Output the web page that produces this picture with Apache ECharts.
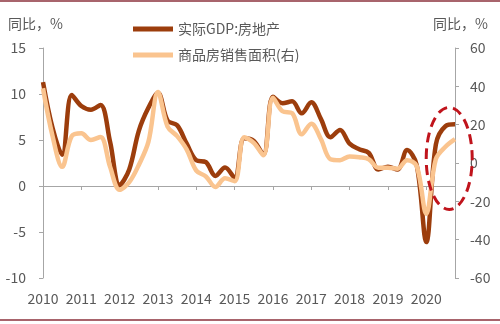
<!DOCTYPE html>
<html>
<head>
<meta charset="utf-8">
<script src="https://cdn.jsdelivr.net/npm/echarts@6/dist/echarts.min.js"></script>
<style>
  html, body { margin: 0; padding: 0; background: #fff; }
  #chart { width: 500px; height: 324px; }
</style>
</head>
<body>
<div id="chart"></div>
<script>
// Quarterly categories, 2010Q1 .. 2020Q4
const years = ['2010','2011','2012','2013','2014','2015','2016','2017','2018','2019','2020'];
const quarters = [];
years.forEach(y => { for (let q = 1; q <= 4; q++) quarters.push(y + 'Q' + q); });

// 实际GDP:房地产, yoy %, left axis
const gdpRealEstate = [
  11.3, 6.3, 3.4, 9.9,
  8.7, 8.3, 8.8, 4.8,
  0.1, 1.8, 6.0, 8.5,
  10.1, 7.1, 6.6, 4.6,
  2.8, 2.6, 1.1, 2.0,
  0.9, 5.2, 4.9, 3.4,
  9.7, 9.0, 9.2, 7.9,
  9.1, 7.3, 5.3, 6.1,
  4.6, 4.0, 3.6, 1.8,
  2.1, 1.8, 3.9, 2.3,
  -6.1, 4.5, 6.5, 6.7
];

// 商品房销售面积, yoy %, right axis
const salesArea = [
  39, 14, -2, 14,
  15.5, 12, 13.6, -2,
  -14, -10, -1, 11,
  37, 19, 14, 7,
  -4, -7, -12.5, -8,
  -9.5, 13.5, 10.5, 4,
  34, 27, 26, 15,
  20.5, 12.5, 2, 1.5,
  3.4, 3.0, 2, -2.5,
  -2.5, -3, 1.5, -1.5,
  -26.5, 2, 8.5, 12.5
];

const leftTicks = { min: -10, max: 15, interval: 5 };
const rightTicks = { min: -60, max: 60, interval: 20 };

const textColor = '#595959';
const axisColor = '#A6A6A6';
const darkColor = '#9C3D0C';
const lightColor = '#FAC48F';
const fontFamily = '"Noto Sans CJK SC", "Noto Sans", sans-serif';

const chart = echarts.init(document.getElementById('chart'), null, { renderer: 'canvas' });

const option = {
  animation: false,
  textStyle: { fontFamily: fontFamily },
  grid: { left: 43, right: 45, top: 48, bottom: 46 },
  legend: {
    orient: 'vertical',
    left: 128,
    top: 17,
    icon: 'rect',
    itemWidth: 40,
    itemHeight: 5,
    itemGap: 12,
    textStyle: { color: textColor, fontSize: 14, fontFamily: fontFamily, lineHeight: 14 },
    data: ['实际GDP:房地产', '商品房销售面积(右)']
  },
  xAxis: [
    {
      type: 'category',
      data: quarters,
      boundaryGap: false,
      axisLine: { onZero: true, lineStyle: { color: axisColor, width: 1 } },
      axisTick: { show: true, interval: 3, length: 4, lineStyle: { color: axisColor } },
      axisLabel: { show: false },
      splitLine: { show: false }
    },
    {
      type: 'category',
      data: quarters,
      boundaryGap: false,
      position: 'bottom',
      axisLine: { show: false, onZero: false },
      axisTick: { show: false },
      axisLabel: {
        interval: 3,
        margin: 14,
        color: textColor,
        fontSize: 14,
        formatter: v => v.slice(0, 4)
      },
      splitLine: { show: false }
    }
  ],
  yAxis: [
    {
      type: 'value',
      min: leftTicks.min, max: leftTicks.max, interval: leftTicks.interval,
      position: 'left',
      axisLine: { show: true, lineStyle: { color: axisColor } },
      axisTick: { show: true, length: 4, lineStyle: { color: axisColor } },
      axisLabel: { color: textColor, fontSize: 14, margin: 17 },
      splitLine: { show: false }
    },
    {
      type: 'value',
      min: rightTicks.min, max: rightTicks.max, interval: rightTicks.interval,
      position: 'right',
      axisLine: { show: true, lineStyle: { color: axisColor } },
      axisTick: { show: true, length: 4, lineStyle: { color: axisColor } },
      axisLabel: { color: textColor, fontSize: 14, margin: 15 },
      splitLine: { show: false }
    }
  ],
  series: [
    {
      name: '实际GDP:房地产',
      type: 'line',
      xAxisIndex: 0,
      yAxisIndex: 0,
      data: gdpRealEstate,
      smooth: 0.35,
      symbol: 'none',
      lineStyle: { color: darkColor, width: 4.5 },
      itemStyle: { color: darkColor },
      z: 2
    },
    {
      name: '商品房销售面积(右)',
      type: 'line',
      xAxisIndex: 0,
      yAxisIndex: 1,
      data: salesArea,
      smooth: 0.35,
      symbol: 'none',
      lineStyle: { color: lightColor, width: 4.5 },
      itemStyle: { color: lightColor },
      z: 3
    }
  ]
};

chart.setOption(option);

// Axis unit captions, frame lines and the dashed highlight ring around the 2020 rebound
const p42 = chart.convertToPixel({ xAxisIndex: 0, yAxisIndex: 0 }, [quarters[42], 3]);
const p43 = chart.convertToPixel({ xAxisIndex: 0, yAxisIndex: 0 }, [quarters[43], 3]);
const cx = (p42[0] + p43[0]) / 2 - 1;
const cy = p42[1];

chart.setOption({
  graphic: [
    {
      type: 'text', left: 8, top: 17,
      style: { text: '同比，%', fill: textColor, fontSize: 14, fontFamily: fontFamily }
    },
    {
      type: 'text', right: 12, top: 17,
      style: { text: '同比，%', fill: textColor, fontSize: 14, fontFamily: fontFamily }
    },
    {
      type: 'line', z: 10,
      shape: { x1: 0, y1: 1, x2: 500, y2: 1 },
      style: { stroke: '#A8646C', lineWidth: 2 }
    },
    {
      type: 'line', z: 10,
      shape: { x1: 0, y1: 320, x2: 500, y2: 320 },
      style: { stroke: '#A8646C', lineWidth: 2 }
    },
    {
      type: 'ellipse', z: 20,
      shape: { cx: cx, cy: cy, rx: 23, ry: 51 },
      style: { fill: 'none', stroke: '#C0141C', lineWidth: 3, lineDash: [10, 6] }
    }
  ]
});
</script>
</body>
</html>
